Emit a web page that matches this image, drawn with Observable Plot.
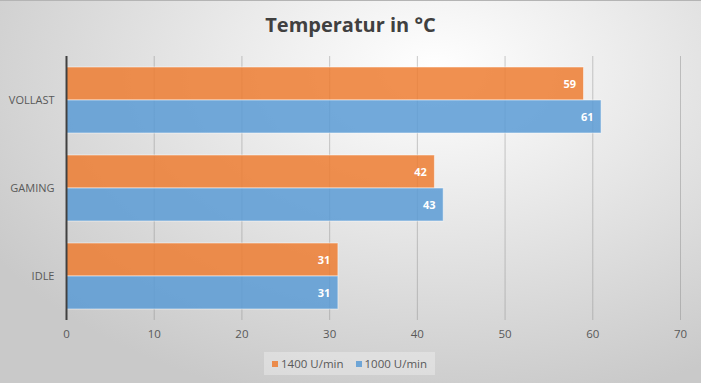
<!DOCTYPE html>
<html>
<head>
<meta charset="utf-8">
<script src="https://cdn.jsdelivr.net/npm/d3@7"></script>
<script src="https://cdn.jsdelivr.net/npm/@observablehq/plot@0.6"></script>
<style>
  html, body { margin: 0; padding: 0; }
  #chart {
    position: relative; width: 701px; height: 383px; overflow: hidden;
    background: radial-gradient(ellipse 75% 90% at 62% 18%, #ffffff 0%, #efefef 30%, #dcdcdc 65%, #c9c9c9 100%);
    font-family: "Open Sans", sans-serif;
    box-sizing: border-box; border-top: 1px solid #b4b4b4;
  }
  #title {
    position: absolute; left: 0; width: 701px; top: 10px; text-align: center;
    font-size: 20px; font-weight: bold; color: #404040;
  }
  #plot { position: absolute; left: 0; top: -1px; }
  #legend {
    position: absolute; left: 264px; top: 351px; width: 171px; height: 23px;
    background: rgba(255,255,255,0.3); display: flex; align-items: center; justify-content: center;
    gap: 12px; font-size: 11.5px; color: #595959;
  }
  .item { display: flex; align-items: center; gap: 3px; }
  .sw { width: 6px; height: 6px; display: inline-block; }
</style>
</head>
<body>
<div id="chart">
  <div id="title">Temperatur in °C</div>
  <div id="plot"></div>
  <div id="legend"></div>
</div>
<script>
const categories = ["VOLLAST", "GAMING", "IDLE"];
const seriesNames = ["1400 U/min", "1000 U/min"];
const values1400 = [59, 42, 31];
const values1000 = [61, 43, 31];
const xTicks = [0, 10, 20, 30, 40, 50, 60, 70];
const colors = ["#ED7D31", "#5B9BD5"];

const d1400 = categories.map((c, i) => ({cat: c, v: values1400[i]}));
const d1000 = categories.map((c, i) => ({cat: c, v: values1000[i]}));

const plot = Plot.plot({
  width: 701,
  height: 383,
  marginTop: 56,
  marginBottom: 63,
  marginLeft: 66,
  marginRight: 21,
  style: {background: "transparent", fontFamily: "Open Sans, sans-serif"},
  x: {domain: [0, 70], ticks: xTicks, tickSize: 0, tickPadding: 9, label: null, tickFormat: d => d},
  y: {domain: categories, paddingInner: 0.25, paddingOuter: 0.125, tickSize: 0, tickPadding: 12, label: null},
  marks: [
    Plot.ruleX(xTicks.filter(d => d > 0), {stroke: "#8a8a8a", strokeOpacity: 0.45}),
    Plot.barX(d1400, {x: "v", y: "cat", fill: colors[0], fillOpacity: 0.85, insetBottom: 33, stroke: "#ffffff", strokeOpacity: 0.5}),
    Plot.barX(d1000, {x: "v", y: "cat", fill: colors[1], fillOpacity: 0.85, insetTop: 33, stroke: "#ffffff", strokeOpacity: 0.5}),
    Plot.text(d1400, {x: "v", y: "cat", text: d => String(d.v), dy: -16.5, dx: -8, textAnchor: "end", fill: "white", fontWeight: "bold", fontSize: 11}),
    Plot.text(d1000, {x: "v", y: "cat", text: d => String(d.v), dy: 16.5, dx: -8, textAnchor: "end", fill: "white", fontWeight: "bold", fontSize: 11}),
    Plot.ruleX([0], {stroke: "#404040", strokeWidth: 2})
  ]
});
plot.querySelectorAll("[aria-label='x-axis tick label'], [aria-label='y-axis tick label']").forEach(g => {
  g.setAttribute("font-size", "11.5");
  g.setAttribute("fill", "#595959");
});
plot.querySelectorAll("[aria-label='y-axis tick label']").forEach(g => {
  g.setAttribute("font-size", "11");
});
document.getElementById("plot").appendChild(plot);

const legend = document.getElementById("legend");
seriesNames.forEach((s, i) => {
  const it = document.createElement("span");
  it.className = "item";
  it.innerHTML = `<span class="sw" style="background:${colors[i]};opacity:0.85"></span><span>${s}</span>`;
  legend.appendChild(it);
});
</script>
</body>
</html>
